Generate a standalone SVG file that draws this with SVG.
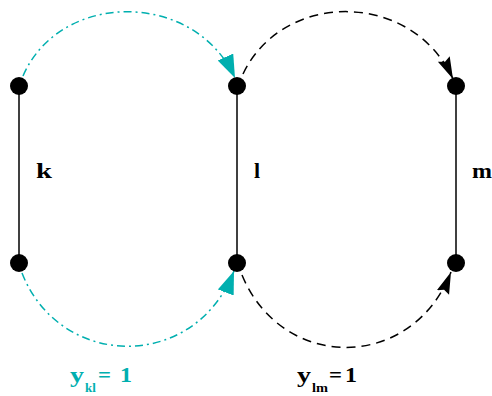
<svg xmlns="http://www.w3.org/2000/svg" width="492" height="396" viewBox="0 0 492 396">
<style>
.dot{fill:#000}
.bar{stroke:#000;stroke-width:1.5;fill:none}
.teal{stroke:#00AFAF;stroke-width:1.5;fill:none;stroke-dasharray:8 4 2 4}
.blk{stroke:#000;stroke-width:1.5;fill:none;stroke-dasharray:9 6}
.lbl{font-family:"Liberation Serif","DejaVu Serif",serif;font-weight:bold;font-size:22px;fill:#000}
.sub{font-family:"Liberation Serif","DejaVu Serif",serif;font-weight:bold;font-size:13px}
.tl{fill:#00AFAF}
</style>
<defs>
<marker id="aT" markerUnits="userSpaceOnUse" markerWidth="26" markerHeight="20" refX="23" refY="8.5" orient="auto">
<path d="M0,0 L23,8.5 L0,17 z" fill="#00AFAF"/>
</marker>
<marker id="aB" markerUnits="userSpaceOnUse" markerWidth="24" markerHeight="16" refX="22" refY="6.5" orient="auto">
<path d="M0,0 L22,6.5 L0,13 L3,6.5 z" fill="#000"/>
</marker>
</defs>
<rect width="492" height="396" fill="#fff"/>
<g id="connectors">
<line class="bar" x1="19" y1="86" x2="19" y2="263"/>
<line class="bar" x1="237" y1="86" x2="237" y2="263"/>
<line class="bar" x1="456" y1="86" x2="456" y2="263"/>
<path class="teal" d="M23,76 C60,-10 195,-10 235,78" marker-end="url(#aT)"/>
<path class="blk" d="M243,74 C283,-10 412,-10 453,79" marker-end="url(#aB)"/>
<path class="teal" d="M22,273 C60,370 195,372 234,271" marker-end="url(#aT)"/>
<path class="blk" d="M242,275 C282,372 412,372 451,272" marker-end="url(#aB)"/>
</g>
<g id="node-k-top"><circle class="dot" cx="19" cy="86" r="9"/></g>
<g id="node-k-bottom"><circle class="dot" cx="19" cy="263" r="9"/></g>
<g id="node-l-top"><circle class="dot" cx="237" cy="86" r="9"/></g>
<g id="node-l-bottom"><circle class="dot" cx="237" cy="263" r="9"/></g>
<g id="node-m-top"><circle class="dot" cx="456" cy="86" r="9"/></g>
<g id="node-m-bottom"><circle class="dot" cx="456" cy="263" r="9"/></g>
<g id="labels">
<text class="lbl" x="36" y="178" textLength="16" lengthAdjust="spacingAndGlyphs">k</text>
<text class="lbl" x="254" y="178">l</text>
<text class="lbl" x="472" y="178" textLength="20" lengthAdjust="spacingAndGlyphs">m</text>
<text class="lbl tl" x="70" y="382" textLength="14" lengthAdjust="spacingAndGlyphs">y</text>
<text class="sub tl" x="85" y="392">kl</text>
<text class="lbl tl" x="98" y="382" textLength="13" lengthAdjust="spacingAndGlyphs">=</text>
<text class="lbl tl" x="120" y="382" textLength="12" lengthAdjust="spacingAndGlyphs">1</text>
<text class="lbl" x="297" y="382" textLength="14" lengthAdjust="spacingAndGlyphs">y</text>
<text class="sub" x="312" y="392" textLength="16" lengthAdjust="spacingAndGlyphs">lm</text>
<text class="lbl" x="329" y="382" textLength="13" lengthAdjust="spacingAndGlyphs">=</text>
<text class="lbl" x="345" y="382" textLength="12" lengthAdjust="spacingAndGlyphs">1</text>
</g>
</svg>
